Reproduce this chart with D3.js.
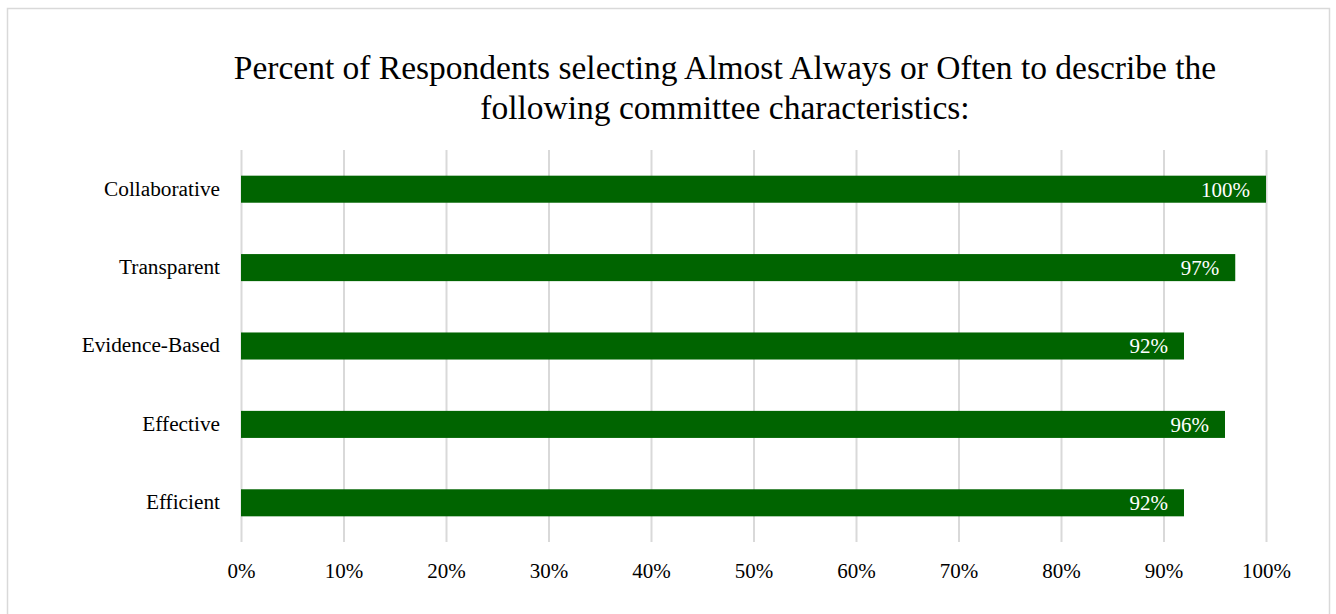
<!DOCTYPE html>
<html><head><meta charset="utf-8">
<script src="https://cdn.jsdelivr.net/npm/d3@7"></script>
<style>body{margin:0;background:#fff}svg{display:block}text{font-family:"Liberation Serif","DejaVu Serif",serif}</style>
</head><body>
<svg id="c" width="1336" height="614"></svg>
<script>
const categories = ["Collaborative","Transparent","Evidence-Based","Effective","Efficient"];
const values = [100,97,92,96,92];
const ticks = [0,10,20,30,40,50,60,70,80,90,100];
const titleLines = ["Percent of Respondents selecting Almost Always or Often to describe the","following committee characteristics:"];

const svg = d3.select("#c");
svg.append("rect").attr("x",7.5).attr("y",8.5).attr("width",1322).attr("height",620)
  .attr("fill","#fff").attr("stroke","#d9d9d9").attr("stroke-width",1.5);

const m = {left:241, right:1266, top:150, bottom:542};
const x = d3.scaleLinear().domain([0,100]).range([m.left,m.right]);
const y = d3.scaleBand().domain(categories).range([m.top,m.bottom]).paddingInner(0.655).paddingOuter(0.3275);

svg.append("g").selectAll("line").data(ticks).join("line")
  .attr("x1",d=>x(d)+0.5).attr("x2",d=>x(d)+0.5).attr("y1",m.top).attr("y2",m.bottom)
  .attr("stroke","#d9d9d9").attr("stroke-width",2);

const xa = svg.append("g").attr("transform",`translate(0,${m.bottom})`)
  .call(d3.axisBottom(x).tickValues(ticks).tickFormat(d=>d+"%").tickSize(0).tickPadding(21));
xa.select(".domain").remove();
xa.selectAll("text").attr("font-size",21).attr("fill","#000").attr("font-family","Liberation Serif");

const ya = svg.append("g").attr("transform",`translate(${m.left},0)`)
  .call(d3.axisLeft(y).tickSize(0).tickPadding(21));
ya.select(".domain").remove();
ya.selectAll("text").attr("font-size",21.3).attr("fill","#000").attr("font-family","Liberation Serif").attr("dy","0.3em");

svg.append("g").selectAll("rect").data(categories).join("rect")
  .attr("x",x(0)).attr("y",d=>y(d)).attr("height",y.bandwidth())
  .attr("width",(d,i)=>x(values[i])-x(0)).attr("fill","#006400");

svg.append("g").selectAll("text").data(categories).join("text")
  .attr("x",(d,i)=>x(values[i])-16).attr("y",d=>y(d)+y.bandwidth()/2)
  .attr("dy","0.35em").attr("text-anchor","end").attr("fill","#fff").attr("font-size",21)
  .text((d,i)=>values[i]+"%");

svg.append("g").selectAll("text").data(titleLines).join("text")
  .attr("x",725).attr("y",(d,i)=>79+i*40).attr("text-anchor","middle")
  .attr("font-size",33.5).attr("fill","#000").text(d=>d);
</script>
</body></html>
